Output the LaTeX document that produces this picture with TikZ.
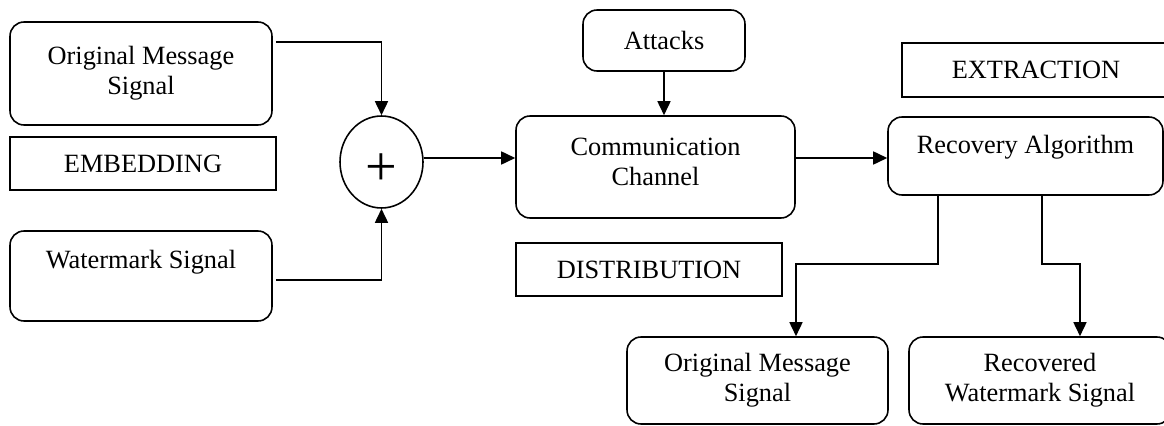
\documentclass[tikz,border=0pt]{standalone}
\usepackage{fontspec}
\setmainfont{Liberation Serif}
\usetikzlibrary{calc,arrows.meta,shapes.geometric}

\begin{document}
\begin{tikzpicture}[x=0.02cm,y=-0.02cm,line width=0.9pt,
    font=\fontsize{15}{17}\selectfont,
    rbox/.style={draw,rounded corners=0.28cm,align=center,inner sep=0pt},
    sbox/.style={draw,align=center,inner sep=0pt},
    txt/.style={align=center,inner sep=0pt},
    arr/.style={-{Triangle[length=0.28cm,width=0.26cm]}}]
      \useasboundingbox (0,0) rectangle (1164,426);
      % embedding side
      \node[rbox,minimum width=5.24cm,minimum height=2.06cm] (orig) at (141,73.5) {Original Message\\Signal};
      \node[sbox,minimum width=5.32cm,minimum height=1.06cm] (embed) at (143,163.5) {EMBEDDING};
      \node[rbox,minimum width=5.24cm,minimum height=1.8cm] (wm) at (141,276) {};
      \node[txt] (wmtext) at (141,262) {Watermark Signal};
      \node[draw,ellipse,minimum width=1.66cm,minimum height=1.84cm,inner sep=0pt] (plus) at (381.5,162) {};
      \node[txt,font=\fontsize{32}{32}\selectfont] (plussign) at (381.5,170) {+};
      % channel
      \node[rbox,minimum width=3.24cm,minimum height=1.22cm] (attacks) at (664,40.5) {Attacks};
      \node[rbox,minimum width=5.58cm,minimum height=2.04cm] (comm) at (655.5,167) {};
      \node[txt] (commtext) at (655.5,161.5) {Communication\\Channel};
      \node[sbox,minimum width=5.32cm,minimum height=1.06cm] (dist) at (649,269.5) {DISTRIBUTION};
      % extraction side
      \node[sbox,minimum width=5.36cm,minimum height=1.08cm] (extr) at (1036,70) {EXTRACTION};
      \node[rbox,minimum width=5.5cm,minimum height=1.56cm] (recov) at (1025.5,156) {};
      \node[txt] (recovtext) at (1025.5,147) {Recovery Algorithm};
      \node[rbox,minimum width=5.22cm,minimum height=1.74cm] (origout) at (757.5,380.5) {Original Message\\Signal};
      \node[rbox,minimum width=5.24cm,minimum height=1.74cm] (recwm) at (1040,380.5) {Recovered\\Watermark Signal};
      % connectors
      \coordinate (midrow) at (0,158);
      \coordinate (forkL) at (938,264);
      \coordinate (forkR) at (1042,264);
      \draw[arr] ([xshift=0.06cm,yshift=-0.42cm]orig.north east) -| (plus.north);
      \draw[arr] ([xshift=0.06cm,yshift=-0.08cm]wm.east) -| (plus.south);
      \draw[arr] (plus.east |- midrow) -- (comm.west |- midrow);
      \draw[arr] (attacks.south) -- (attacks.south |- comm.north);
      \draw[arr] (comm.east |- midrow) -- (recov.west |- midrow);
      \draw[arr] (recov.south -| forkL) -- (forkL) -| ([xshift=0.77cm]origout.north);
      \draw[arr] (recov.south -| forkR) -- (forkR) -| ([xshift=0.8cm]recwm.north);
\end{tikzpicture}
\end{document}
